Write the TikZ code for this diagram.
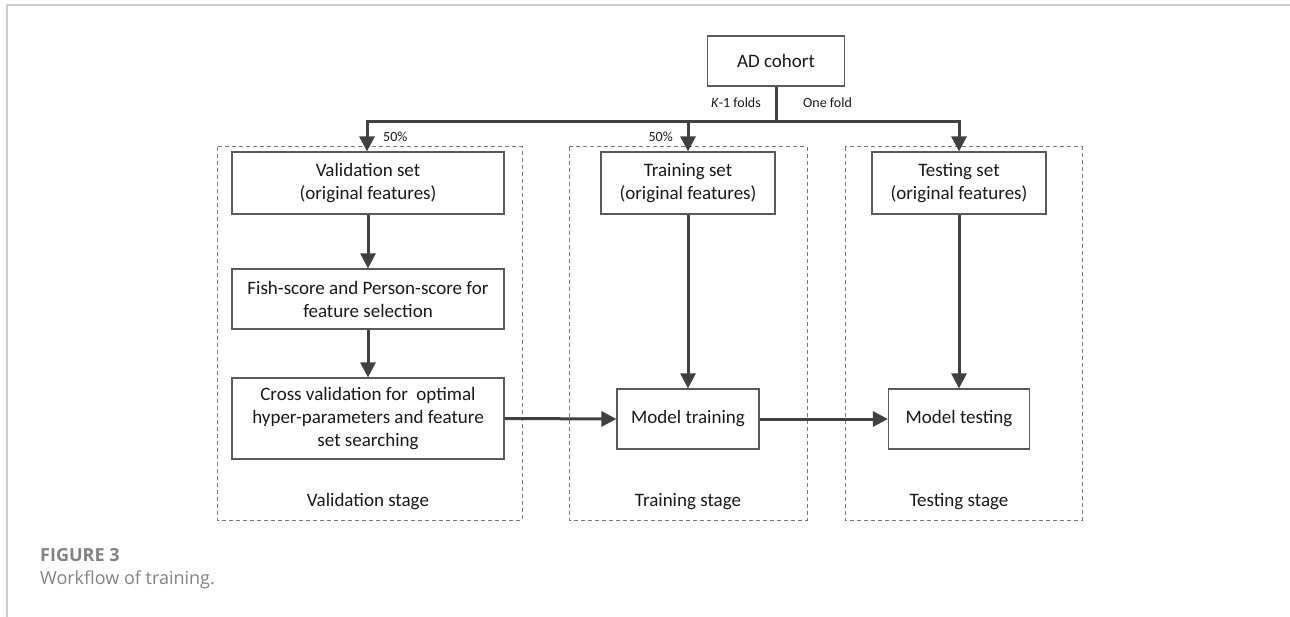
\documentclass[tikz,border=0pt]{standalone}
\usepackage{fontspec}
\setmainfont{Carlito}
\newfontfamily\capfont{Open Sans}
\usetikzlibrary{arrows.meta}
\definecolor{flowgray}{RGB}{64,64,64}
\definecolor{boxgray}{RGB}{90,90,90}
\definecolor{dashgray}{RGB}{120,120,120}
\definecolor{framegray}{RGB}{205,205,205}
\definecolor{capgray}{RGB}{130,130,130}
\tikzset{
  box/.style={draw=boxgray, line width=1.2pt, fill=white, align=center,
    inner sep=0pt, font=\fontsize{19}{23}\selectfont, text=black!90},
  stage/.style={draw=dashgray, line width=1pt, dash pattern=on 4pt off 3pt},
  flow/.style={draw=flowgray, line width=3pt, -{Triangle[length=15pt,width=15pt]}},
  trunk/.style={draw=flowgray, line width=3pt},
  small/.style={font=\fontsize{14}{16}\selectfont, text=black!90, inner sep=0pt},
  stagelabel/.style={font=\fontsize{19}{23}\selectfont, text=black!90, inner sep=0pt},
  caption/.style={anchor=west, inner sep=0pt, text=capgray},
}
\begin{document}
\begin{tikzpicture}[x=1pt,y=-1pt]
\useasboundingbox (0,0) rectangle (1290,617);
% page frame
\draw[framegray, line width=2pt] (7,617) -- (7,5) -- (1290,5);

% stage frames
\draw[stage] (217,147) rectangle (522,520);
\draw[stage] (569,147) rectangle (807,520);
\draw[stage] (845,147) rectangle (1082,520);

% boxes
\node[box, minimum width=137pt, minimum height=50pt] (ad) at (776,61) {AD cohort};
\node[box, minimum width=272pt, minimum height=62pt] (val) at (368,183) {Validation set\\(original features)};
\node[box, minimum width=272pt, minimum height=60pt] (fish) at (368,299) {Fish-score and Person-score for\\feature selection};
\node[box, minimum width=272pt, minimum height=81pt] (cross) at (368,418.5) {Cross validation for\ \ optimal\\hyper-parameters and feature\\set searching};
\node[box, minimum width=174pt, minimum height=62pt] (train) at (688,183) {Training set\\(original features)};
\node[box, minimum width=174pt, minimum height=62pt] (test) at (959,183) {Testing set\\(original features)};
\node[box, minimum width=142pt, minimum height=60pt] (mtrain) at (688,419) {Model training};
\node[box, minimum width=141pt, minimum height=60pt] (mtest) at (959,419) {Model testing};

% split points
\coordinate (hub) at (776,122);
\coordinate (sv) at (367,122);
\coordinate (st) at (688,122);
\coordinate (se) at (959,122);

\draw[trunk] (ad.south) -- (hub);
\draw[trunk, line cap=rect] (sv) -- (se);
\draw[flow] (sv) -- (sv |- val.north);
\draw[flow] (st) -- (train.north);
\draw[flow] (se) -- (test.north);

\draw[flow] (val) -- (fish);
\draw[flow] (fish) -- (cross);
\draw[flow] (train) -- (mtrain);
\draw[flow] (test) -- (mtest);
\draw[flow] (cross.east) -- (mtrain.west);
\draw[flow] (mtrain.east) -- (mtest.west);

% labels
\node[small, anchor=east] (kf) at (761,103) {\textit{K}-1 folds};
\node[small, anchor=west] (of) at (803,103) {One fold};
\node[small, anchor=west] (pv) at (383,137) {50\%};
\node[small, anchor=east] (pt) at (673,137) {50\%};

\node[stagelabel] (lv) at (368,502) {Validation stage};
\node[stagelabel] (lt) at (688,502) {Training stage};
\node[stagelabel] (le) at (959,502) {Testing stage};

% caption
\node[caption, font=\capfont\bfseries\fontsize{18}{21}\selectfont] (fig) at (40,555) {FIGURE 3};
\node[caption, font=\capfont\fontsize{18}{21}\selectfont] (cap) at (40,580) {Workflow of training.};
\end{tikzpicture}
\end{document}
